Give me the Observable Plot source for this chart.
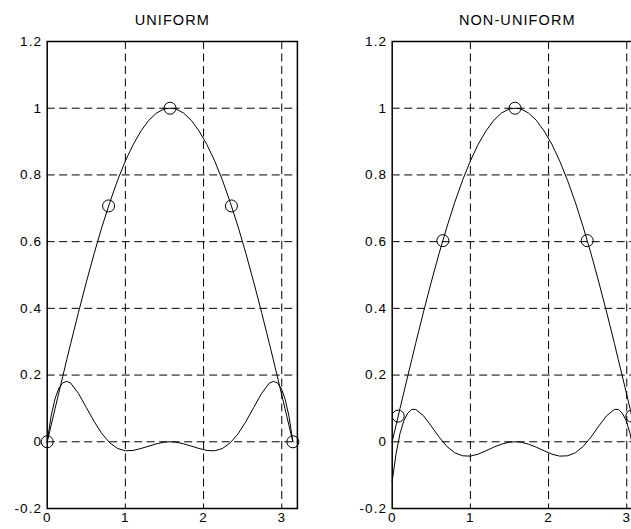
<!DOCTYPE html>
<html><head><meta charset="utf-8">
<script src="https://cdn.jsdelivr.net/npm/d3@7"></script>
<script src="https://cdn.jsdelivr.net/npm/@observablehq/plot@0.6"></script>
<style>
html,body{margin:0;padding:0;background:#fff;overflow:hidden;}
#wrap{position:relative;width:631px;height:529px;overflow:hidden;background:#fff;}
#wrap svg{position:absolute;top:0;}
</style></head><body><div id="wrap"></div>
<script>
const panelTitles = ["UNIFORM", "NON-UNIFORM"];

const xs = [0, 0.05, 0.1, 0.15, 0.2, 0.25, 0.3, 0.4, 0.5, 0.6, 0.7, 0.8, 0.9, 1.0, 1.1, 1.2, 1.3, 1.4, 1.5, 1.571,
  1.642, 1.742, 1.842, 1.942, 2.042, 2.142, 2.242, 2.342, 2.442, 2.542, 2.642, 2.742, 2.842, 2.892, 2.942, 2.992, 3.042, 3.092, 3.142];

const uniformCurve = [0, 0.049, 0.099, 0.148, 0.197, 0.246, 0.294, 0.388, 0.478, 0.564, 0.644, 0.717, 0.784, 0.842, 0.891, 0.932, 0.964, 0.986, 0.998, 1.000,
  0.998, 0.986, 0.964, 0.932, 0.891, 0.842, 0.784, 0.717, 0.644, 0.564, 0.478, 0.388, 0.294, 0.246, 0.197, 0.148, 0.099, 0.049, 0];

const uniformError = [0, 0.077, 0.129, 0.161, 0.177, 0.181, 0.176, 0.145, 0.103, 0.061, 0.024, -0.003, -0.020, -0.027, -0.026, -0.020, -0.013, -0.006, -0.001, 0,
  -0.001, -0.006, -0.013, -0.020, -0.026, -0.027, -0.020, -0.003, 0.024, 0.061, 0.103, 0.145, 0.176, 0.181, 0.177, 0.161, 0.129, 0.077, 0];

const nonUniformCurve = [0.001, 0.050, 0.100, 0.149, 0.198, 0.246, 0.295, 0.389, 0.479, 0.565, 0.644, 0.718, 0.784, 0.842, 0.892, 0.932, 0.964, 0.986, 0.998, 1.000,
  0.998, 0.986, 0.964, 0.932, 0.892, 0.842, 0.784, 0.718, 0.644, 0.565, 0.479, 0.389, 0.295, 0.246, 0.198, 0.149, 0.100, 0.050, 0.001];

const nonUniformError = [-0.118, -0.035, 0.025, 0.064, 0.086, 0.097, 0.097, 0.078, 0.047, 0.014, -0.014, -0.033, -0.042, -0.043, -0.037, -0.027, -0.016, -0.007, -0.001, 0,
  -0.001, -0.007, -0.016, -0.027, -0.037, -0.043, -0.042, -0.033, -0.014, 0.014, 0.047, 0.078, 0.097, 0.097, 0.086, 0.064, 0.025, -0.035, -0.118];

const uniformNodesX = [0, 0.785, 1.571, 2.356, 3.142];
const uniformNodesY = [0, 0.707, 1, 0.707, 0];
const nonUniformNodesX = [0.077, 0.648, 1.571, 2.494, 3.065];
const nonUniformNodesY = [0.077, 0.603, 1, 0.603, 0.077];

const xTicks = [0, 1, 2, 3];
const xTickLabels = ["0", "1", "2", "3"];
const yTicks = [-0.2, 0, 0.2, 0.4, 0.6, 0.8, 1, 1.2];
const yTickLabels = ["-0.2", "0", "0.2", "0.4", "0.6", "0.8", "1", "1.2"];
const xDomain = [0, 3.2];
const yDomain = [-0.2, 1.2];

function panel(title, curve, err, nx, ny, left, width, mL, mR) {
  const curveData = xs.map((x, i) => ({x, y: curve[i]}));
  const errData = xs.map((x, i) => ({x, y: err[i]}));
  const nodes = nx.map((x, i) => ({x, y: ny[i]}));
  const gx = xTicks.filter(d => d > xDomain[0] && d < xDomain[1]);
  const gy = yTicks.filter(d => d > yDomain[0] && d < yDomain[1]);
  const svg = Plot.plot({
    width, height: 529,
    marginLeft: mL, marginRight: mR, marginTop: 41, marginBottom: 21,
    style: {fontFamily: "'Liberation Sans', Arial, sans-serif", fontSize: "13.5px", letterSpacing: "1.1px", color: "#000", background: "transparent", overflow: "visible"},
    x: {domain: xDomain},
    y: {domain: yDomain},
    marks: [
      Plot.ruleX(gx, {stroke: "#000", strokeWidth: 1, strokeDasharray: "8,4.5"}),
      Plot.ruleY(gy, {stroke: "#000", strokeWidth: 1, strokeDasharray: "8,4.5"}),
      Plot.frame({stroke: "#000", strokeWidth: 1.5}),
      Plot.axisX({ticks: xTicks, tickSize: 0, tickPadding: 4, tickFormat: (d, i) => xTickLabels[i], label: null}),
      Plot.axisY({ticks: yTicks, tickSize: 0, tickPadding: 5, tickFormat: (d, i) => yTickLabels[i], label: null}),
      Plot.line(curveData, {x: "x", y: "y", stroke: "#000", strokeWidth: 1}),
      Plot.line(errData, {x: "x", y: "y", stroke: "#000", strokeWidth: 1}),
      Plot.dot(nodes, {x: "x", y: "y", r: 6, stroke: "#000", fill: "none", strokeWidth: 1}),
      Plot.text([title], {text: d => d, frameAnchor: "top", lineAnchor: "bottom", dy: -17, fontSize: 14.5, letterSpacing: "1.3px"})
    ]
  });
  svg.style.left = left + "px";
  svg.style.position = "absolute";
  svg.style.top = "0px";
  return svg;
}

const wrap = document.getElementById("wrap");
wrap.appendChild(panel(panelTitles[0], uniformCurve, uniformError, uniformNodesX, uniformNodesY, 0, 320, 46.7, 23.1));
wrap.appendChild(panel(panelTitles[1], nonUniformCurve, nonUniformError, nonUniformNodesX, nonUniformNodesY, 345, 300, 46.7, 3.1));
</script></body></html>
